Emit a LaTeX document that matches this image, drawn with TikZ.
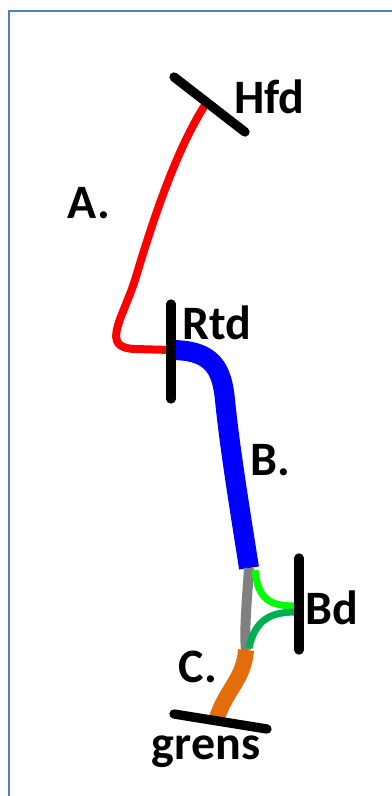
\documentclass[tikz,border=0pt]{standalone}
\usepackage{fontspec}
\setmainfont{Carlito}
\begin{document}
\begin{tikzpicture}[x=0.75pt,y=-0.75pt,
  bar/.style={line width=7pt,line cap=round,black},
  seg/.style={line cap=round},
  lbl/.style={font=\bfseries\fontsize{36}{42}\selectfont,inner sep=0pt}]
\useasboundingbox (0,0) rectangle (392,796);
\draw[line width=1.5pt,color={rgb,255:red,79;green,129;blue,189}] (8.5,800) -- (8.5,10.5) -- (395,10.5);
% coordinates
\coordinate (h1) at (174,77); \coordinate (h2) at (245,132);
\coordinate (hm) at (207,102);
\coordinate (r1) at (171,304); \coordinate (r2) at (171,399);
\coordinate (rm) at (171,350);
\coordinate (bj) at (249,568);
\coordinate (cj) at (246,650);
\coordinate (d1) at (299,558); \coordinate (d2) at (299,650);
\coordinate (dm1) at (296,606); \coordinate (dm2) at (296,612);
\coordinate (g1) at (174,714); \coordinate (g2) at (267,729);
\coordinate (gm) at (216,721);
% curves
\draw[seg,line width=6pt,red] (hm) .. controls (175,150) and (150,230) .. (135,280)
  .. controls (122,320) and (100,348) .. (135,349) -- (rm);
\draw[line width=15pt,blue] (rm) .. controls (212,350) and (222,368) .. (225,400)
  .. controls (230,450) and (240,510) .. (bj);
\draw[line width=7.5pt,gray] (bj) .. controls (247,600) and (244,630) .. (cj);
\draw[line width=5.25pt,green] (255,570) .. controls (258,600) and (270,606) .. (dm1);
\draw[line width=5.25pt,color={rgb,255:red,0;green,176;blue,80}] (249,648) .. controls (255,620) and (270,612) .. (dm2);
\draw[line width=12pt,color={rgb,255:red,228;green,108;blue,10}] (cj) .. controls (244,680) and (225,690) .. (gm);
% bars
\draw[bar] (h1) -- (h2);
\draw[bar] (r1) -- (r2);
\draw[bar] (d1) -- (d2);
\draw[bar] (g1) -- (g2);
% labels
\node[lbl,anchor=west] (hfd) at (234,97) {Hfd};
\node[lbl] (a) at (89,203) {A.};
\node[lbl,anchor=west] (rtd) at (182,323) {Rtd};
\node[lbl] (b) at (270,460) {B.};
\node[lbl,anchor=west] (bd) at (305,608) {Bd};
\node[lbl] (c) at (198,667) {C.};
\node[lbl] (grens) at (206,752) {grens};
\end{tikzpicture}
\end{document}
